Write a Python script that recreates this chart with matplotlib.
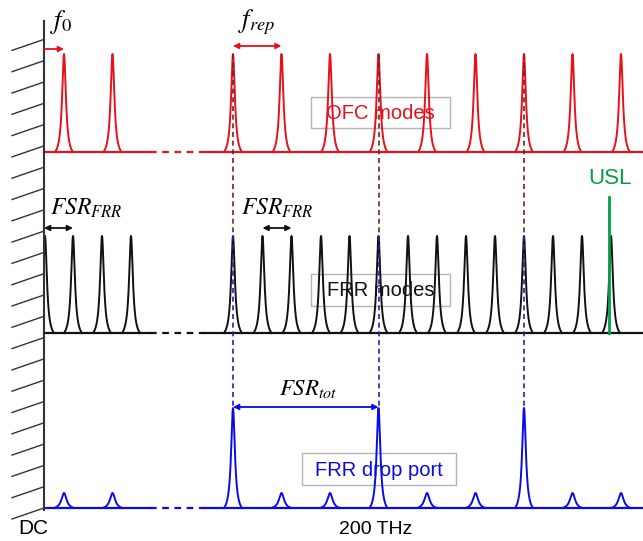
import numpy as np
import matplotlib.pyplot as plt
from matplotlib.patches import Rectangle

plt.rcParams['font.family'] = ['Liberation Sans', 'DejaVu Sans']
plt.rcParams['mathtext.fontset'] = 'stix'

# schematic frequency axis, in figure pixels (DC wall at 44)
dc_x = 44
break_start, break_end = 150, 204
x_end = 643

# OFC comb modes (red)
ofc_x = [64, 112.5, 233, 281.5, 330, 378.5, 427, 475.5, 524, 572.5, 621]
ofc_h = [1.0] * len(ofc_x)

# FRR resonances (black)
frr_x = [45, 73, 102, 131, 233, 262.5, 291.5, 321, 349.5, 378.5, 408,
         437, 466, 495, 524, 553, 582, 611]
frr_h = [1.0] * len(frr_x)

# drop port output (blue), strong where OFC and FRR coincide
drop_x = ofc_x
drop_h = [0.15, 0.15, 1.0, 0.15, 0.15, 1.0, 0.15, 0.15, 1.0, 0.15, 0.15]

coincide_x = [233, 378.5, 524]
usl_x = 609

# panel baselines / peak heights (pixels)
red_base, red_amp = 152, 98
blk_base, blk_amp = 333, 97
blu_base, blu_amp = 508, 100

red = '#e8101a'
blue = '#0a0ae6'
black = '#111111'
green = '#00a046'


def peak(x0, h, w=9, g=2.3):
    xs = np.linspace(x0 - w, x0 + w, 300)
    L = 1 / (1 + ((xs - x0) / g) ** 2)
    Lw = 1 / (1 + (w / g) ** 2)
    ys = (L - Lw) / (1 - Lw) * h
    keep = xs >= dc_x
    return xs[keep], ys[keep]


fig = plt.figure(figsize=(6.43, 5.41), dpi=100)
ax = fig.add_axes([0, 0, 1, 1])
ax.set_xlim(0, 643)
ax.set_ylim(541, 0)
ax.axis('off')


def draw_panel(xs, hs, base, amp, color):
    ax.plot([dc_x, break_start], [base, base], color=color, lw=1.6)
    ax.plot([break_start, break_end], [base, base], color=color, lw=1.6,
            linestyle=(0, (3, 2.5)))
    ax.plot([break_end, x_end], [base, base], color=color, lw=1.6)
    for x0, h in zip(xs, hs):
        w = 9 if h > 0.5 else 10
        g = 2.3 if h > 0.5 else 3.2
        px, py = peak(x0, h * amp, w, g)
        ax.plot(px, base - py, color=color, lw=1.4)


draw_panel(ofc_x, ofc_h, red_base, red_amp, red)
draw_panel(frr_x, frr_h, blk_base, blk_amp, black)
draw_panel(drop_x, drop_h, blu_base, blu_amp, blue)

# alignment guides
for x0 in coincide_x:
    ax.plot([x0, x0], [red_base - red_amp, blk_base - blk_amp], color='#6b2525',
            lw=1.2, linestyle=(0, (3, 2.2)))
    ax.plot([x0, x0], [blk_base - blk_amp, blu_base - blu_amp], color='#2323b0',
            lw=1.2, linestyle=(0, (3, 2.2)))

# USL line
ax.plot([usl_x, usl_x], [197, blk_base], color=green, lw=2)
ax.text(usl_x + 1, 179, 'USL', color=green, fontsize=16, ha='center', va='center')

# DC wall with hatching
ax.plot([dc_x, dc_x], [21, 510], color='#333333', lw=1.5)
for k in range(23):
    yr = 508 - 21.3 * k
    ax.plot([12, dc_x], [yr + 11, yr], color='#333333', lw=1)


def arrow(x1, x2, y, color, style):
    ax.annotate('', xy=(x2, y), xytext=(x1, y),
                arrowprops=dict(arrowstyle=style, color=color, lw=1.3,
                                mutation_scale=8, shrinkA=0, shrinkB=0))


arrow(dc_x, ofc_x[0], 49, red, '-|>')
arrow(ofc_x[2], ofc_x[3], 46, red, '<|-|>')
arrow(dc_x, frr_x[1], 228, black, '<|-|>')
arrow(frr_x[5], frr_x[6], 228, black, '<|-|>')
arrow(coincide_x[0], coincide_x[1], 407, blue, '<|-|>')

ax.text(61, 22, r'$f_0$', fontsize=19, ha='center', va='center')
ax.text(257, 22, r'$f_{rep}$', fontsize=19, ha='center', va='center')
ax.text(86, 208, r'$FSR_{FRR}$', fontsize=17, ha='center', va='center')
ax.text(277, 208, r'$FSR_{FRR}$', fontsize=17, ha='center', va='center')
ax.text(308, 388, r'$FSR_{tot}$', fontsize=16.5, ha='center', va='center')

# labelled boxes
for (x0, y0, x1, y1), label, color in [
        ((311, 97, 450, 128), 'OFC modes', red),
        ((311, 274, 450, 306), 'FRR modes', black),
        ((302, 453, 456, 485), 'FRR drop port', blue)]:
    ax.add_patch(Rectangle((x0, y0), x1 - x0, y1 - y0, fill=False,
                           edgecolor='#b5b5b5', lw=1))
    ax.text((x0 + x1) / 2, (y0 + y1) / 2 + 1, label, color=color, fontsize=14.5,
            ha='center', va='center')

ax.text(33, 528, 'DC', fontsize=15, ha='center', va='center')
ax.text(376, 530, '200 THz', fontsize=14, ha='center', va='center')

fig.savefig('out.png', dpi=100)
